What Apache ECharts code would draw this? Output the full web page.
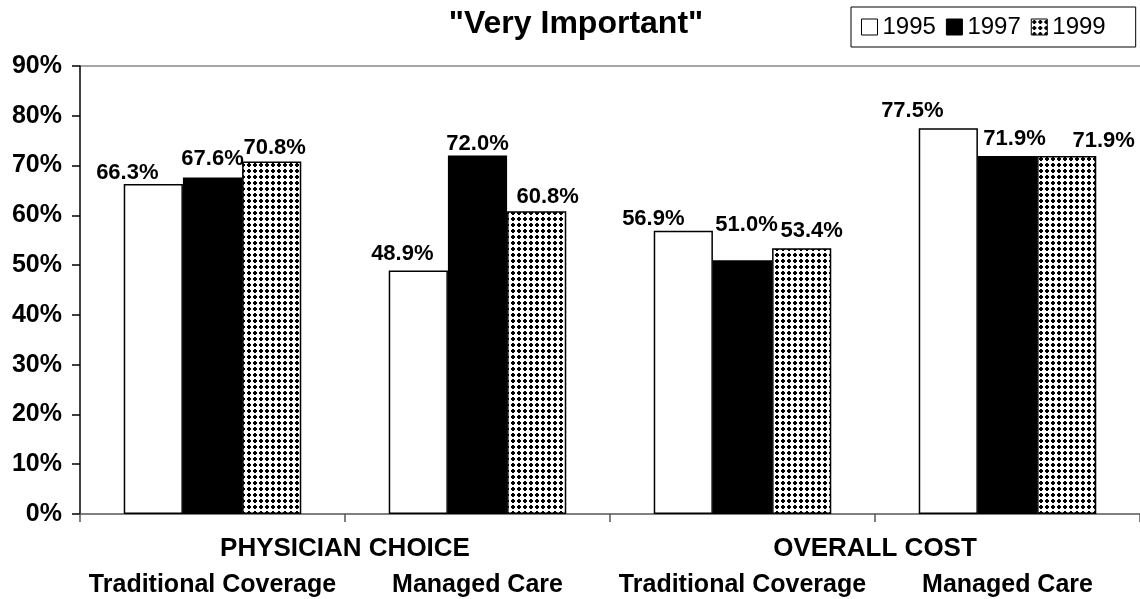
<!DOCTYPE html>
<html>
<head>
<meta charset="utf-8">
<script src="https://cdn.jsdelivr.net/npm/echarts@6/dist/echarts.min.js"></script>
<style>
  html, body { margin: 0; padding: 0; background: #fff; }
  #chart { width: 1140px; height: 599px; }
</style>
</head>
<body>
<div id="chart"></div>
<script>
// data
const groups = ['PHYSICIAN CHOICE', 'OVERALL COST'];
const categories = ['Traditional Coverage', 'Managed Care', 'Traditional Coverage', 'Managed Care'];
const years = ['1995', '1997', '1999'];
const v1995 = [66.3, 48.9, 56.9, 77.5];
const v1997 = [67.6, 72.0, 51.0, 71.9];
const v1999 = [70.8, 60.8, 53.4, 71.9];

// dotted fill for 1999
const makePattern = () => {
  const c = document.createElement('canvas');
  c.width = 6;
  c.height = 6;
  const ctx = c.getContext('2d');
  ctx.fillStyle = '#fff';
  ctx.fillRect(0, 0, 6, 6);
  ctx.fillStyle = '#000';
  ctx.fillRect(1, 2, 4, 2);
  ctx.fillRect(2, 1, 2, 4);
  return c;
};
const dotted = { image: makePattern(), repeat: 'repeat' };

const labelFont = { fontFamily: 'Arial, Liberation Sans, sans-serif', fontWeight: 'bold', color: '#000' };

// excel-ish label nudges [dx, dy]
const nudges = [
  [[-26, 1], [-16, -5], [-30, 0], [-36, -5]],
  [[0, -7], [0, 0], [4, -23], [7, -5]],
  [[3, -2], [11, -2], [10, -5], [37, -3]]
];

const makeSeries = (name, values, color, idx) => ({
  name: name,
  type: 'bar',
  barGap: '0%',
  barCategoryGap: '33%',
  itemStyle: { color: color, borderColor: '#000', borderWidth: 1.5 },
  data: values.map((v, i) => ({
    value: v,
    label: { offset: nudges[idx][i] }
  })),
  label: {
    show: true,
    position: 'top',
    distance: 1,
    formatter: (p) => p.value.toFixed(1) + '%',
    fontSize: 22,
    ...labelFont
  }
});

const chart = echarts.init(document.getElementById('chart'));
const option = {
  animation: false,
  title: {
    text: '"Very Important"',
    left: 571,
    textAlign: 'center',
    top: 3,
    textStyle: { fontSize: 32, ...labelFont }
  },
  legend: {
    data: years,
    left: 851,
    top: 7,
    padding: [8, 30, 8, 10],
    itemGap: 10,
    itemWidth: 16,
    itemHeight: 16,
    icon: 'rect',
    backgroundColor: '#fff',
    borderColor: '#000',
    borderWidth: 1,
    borderRadius: 0,
    textStyle: { fontSize: 24, fontFamily: 'Arial, Liberation Sans, sans-serif', color: '#000' },
    itemStyle: { borderColor: '#000', borderWidth: 1 }
  },
  grid: { left: 80, right: 0, top: 66, bottom: 85 },
  xAxis: [
    {
      type: 'category',
      data: categories,
      axisLine: { lineStyle: { color: '#555', width: 1.5 } },
      axisTick: { show: true, interval: 0, length: 8, lineStyle: { color: '#555', width: 1.5 } },
      axisLabel: { interval: 0, hideOverlap: false, margin: 59, fontSize: 25, ...labelFont }
    },
    {
      type: 'category',
      position: 'bottom',
      data: groups,
      axisLine: { show: false },
      axisTick: { show: false },
      axisLabel: { interval: 0, margin: 22, fontSize: 26, ...labelFont }
    }
  ],
  yAxis: {
    type: 'value',
    min: 0,
    max: 90,
    interval: 10,
    axisLine: { show: true, lineStyle: { color: '#000', width: 1.5 } },
    axisTick: { show: true, length: 8, lineStyle: { color: '#000', width: 1.5 } },
    axisLabel: { formatter: '{value}%', margin: 18, fontSize: 25, ...labelFont },
    splitLine: {
      show: true,
      lineStyle: {
        color: ['transparent', 'transparent', 'transparent', 'transparent', 'transparent',
          'transparent', 'transparent', 'transparent', 'transparent', '#888'],
        width: 1.5
      }
    }
  },
  series: [
    makeSeries('1995', v1995, '#fff', 0),
    makeSeries('1997', v1997, '#000', 1),
    makeSeries('1999', v1999, dotted, 2)
  ]
};
chart.setOption(option);
</script>
</body>
</html>
